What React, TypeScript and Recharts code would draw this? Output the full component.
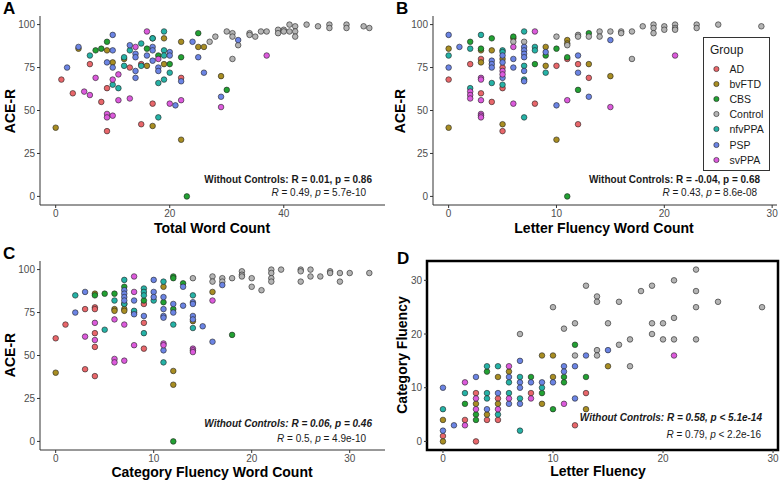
import React from "react";
import { ScatterChart, Scatter, XAxis, YAxis, ReferenceArea, Legend } from "recharts";

const groups = ["AD", "bvFTD", "CBS", "Control", "nfvPPA", "PSP", "svPPA"];
const colors = ["#E8666A", "#A88D22", "#22A133", "#B4B4B4", "#25B2A6", "#6B84E4", "#DC5ADC"];

// A: total word count vs ACE-R
const totalAD = [[1, 68], [3, 60], [6, 77], [8, 55], [9, 63], [9, 38], [13, 75], [15, 42], [15, 77], [17, 54], [22, 69]];
const totalBvFTD = [[0, 40], [4, 86], [9, 85], [10, 78], [12, 80], [16, 76], [19, 92], [19, 77], [22, 90], [25, 87], [26, 87], [29, 70], [17, 41], [22, 33]];
const totalCBS = [[7, 85], [8, 86], [9, 90], [16, 86], [17, 92], [18, 82], [20, 77], [22, 81], [25, 95], [30, 62], [23, 0]];
const totalControl = [[27, 90], [28, 93], [30, 96], [31, 95], [31, 93], [32, 88], [31, 80], [34, 95], [34, 94], [35, 93], [36, 96], [37, 96], [39, 97], [39, 95], [40, 97], [40, 96], [41, 100], [41, 96], [42, 99], [42, 96], [42, 93], [44, 100], [46, 99], [48, 100], [48, 98], [51, 100], [51, 98], [54, 99], [55, 98]];
const totalNfvPPA = [[6, 82], [12, 76], [12, 81], [13, 85], [15, 89], [15, 76], [19, 96], [19, 85], [19, 82], [10, 65], [11, 63], [18, 66], [19, 68], [20, 72], [18, 46], [17, 92]];
const totalPSP = [[2, 75], [4, 87], [10, 94], [10, 85], [9, 78], [10, 75], [13, 88], [14, 83], [14, 81], [14, 73], [14, 69], [16, 82], [17, 87], [17, 85], [17, 79], [18, 75], [18, 73], [20, 84], [20, 82], [22, 67], [24, 90], [25, 81], [26, 72], [32, 91], [21, 53], [29, 58]];
const totalSvPPA = [[5, 61], [6, 59], [7, 69], [9, 48], [9, 46], [10, 47], [10, 68], [11, 71], [11, 56], [13, 57], [14, 87], [16, 96], [18, 80], [20, 54], [22, 56], [29, 52], [37, 82]];

// B: letter fluency word count vs ACE-R
const letterAD = [[0, 68], [2, 77], [3, 80], [3, 60], [4, 55], [5, 75], [5, 63], [5, 38], [8, 54], [10, 76], [11, 80], [12, 77], [12, 42], [13, 69]];
const letterBvFTD = [[0, 86], [0, 40], [3, 85], [3, 78], [4, 85], [5, 80], [5, 42], [6, 92], [9, 87], [9, 76], [10, 33], [11, 91], [11, 89], [13, 77], [15, 70]];
const letterCBS = [[2, 90], [3, 86], [4, 92], [6, 93], [8, 77], [9, 82], [10, 86], [11, 81], [12, 62], [13, 95], [11, 0]];
const letterControl = [[6, 90], [7, 90], [10, 93], [11, 88], [12, 94], [12, 93], [13, 93], [14, 96], [14, 93], [15, 96], [16, 96], [16, 95], [17, 96], [17, 80], [18, 99], [19, 100], [19, 98], [19, 95], [20, 99], [20, 97], [21, 100], [21, 98], [21, 97], [23, 100], [23, 98], [25, 100], [29, 99]];
const letterNfvPPA = [[0, 82], [2, 86], [2, 63], [3, 94], [4, 66], [5, 85], [5, 84], [5, 65], [7, 96], [7, 76], [7, 68], [7, 46], [8, 87], [8, 85], [9, 72]];
const letterPSP = [[0, 94], [0, 75], [1, 87], [4, 79], [4, 77], [4, 75], [5, 82], [5, 78], [5, 69], [6, 80], [6, 75], [7, 87], [7, 85], [7, 83], [7, 81], [7, 73], [7, 67], [9, 84], [10, 53], [12, 82], [12, 72], [13, 58], [15, 91]];
const letterSvPPA = [[2, 61], [2, 59], [2, 57], [3, 69], [3, 68], [3, 56], [3, 48], [3, 47], [3, 46], [5, 73], [5, 71], [6, 87], [6, 54], [8, 96], [11, 56], [15, 52], [21, 82]];

// C: category fluency word count vs ACE-R
const categoryAD = [[0, 60], [1, 68], [3, 77], [3, 42], [4, 78], [4, 77], [4, 63], [4, 55], [4, 38], [8, 75], [9, 80], [9, 69], [9, 54]];
const categoryBvFTD = [[0, 40], [4, 86], [6, 77], [6, 76], [7, 80], [7, 77], [7, 76], [11, 90], [12, 41], [12, 33], [14, 70], [16, 87]];
const categoryCBS = [[4, 85], [5, 86], [6, 86], [7, 90], [9, 82], [11, 81], [12, 96], [12, 95], [12, 77], [13, 92], [18, 62], [12, 0]];
const categoryControl = [[14, 95], [16, 96], [16, 93], [17, 95], [17, 93], [18, 95], [19, 99], [19, 97], [19, 96], [20, 95], [20, 90], [21, 88], [22, 100], [22, 98], [22, 95], [22, 93], [23, 100], [25, 100], [25, 99], [25, 93], [26, 100], [26, 96], [27, 96], [28, 99], [28, 98], [29, 98], [29, 93], [30, 98], [32, 98]];
const categoryNfvPPA = [[2, 85], [5, 65], [6, 82], [7, 94], [7, 80], [8, 76], [9, 89], [9, 87], [9, 85], [9, 63], [10, 82], [11, 93], [11, 46], [12, 68], [14, 85], [14, 66]];
const categoryPSP = [[2, 75], [3, 87], [7, 88], [7, 86], [7, 84], [7, 82], [8, 82], [8, 74], [9, 73], [10, 94], [10, 87], [10, 84], [11, 84], [11, 77], [11, 73], [11, 72], [11, 53], [12, 80], [12, 75], [13, 90], [13, 79], [14, 81], [14, 80], [14, 73], [14, 71], [15, 67], [16, 58], [17, 91]];
const categorySvPPA = [[3, 61], [4, 69], [4, 59], [6, 71], [6, 48], [6, 46], [7, 68], [7, 47], [8, 96], [8, 87], [8, 56], [11, 57], [11, 56], [14, 54], [14, 53], [14, 52], [16, 82]];

// D: letter fluency vs category fluency
const fluencyAD = [[0, 1], [2, 4], [3, 9], [3, 0], [4, 4], [5, 8], [5, 4], [8, 9], [12, 3], [13, 9]];
const fluencyBvFTD = [[0, 4], [0, 0], [3, 7], [4, 5], [5, 12], [5, 7], [6, 13], [9, 7], [9, 16], [10, 16], [10, 12], [13, 6], [15, 14]];
const fluencyCBS = [[2, 7], [3, 5], [3, 4], [4, 13], [8, 12], [9, 9], [10, 6], [11, 12], [11, 11], [12, 18], [13, 12]];
const fluencyControl = [[7, 20], [10, 25], [11, 21], [12, 22], [12, 16], [13, 29], [14, 27], [14, 26], [14, 17], [14, 16], [15, 22], [16, 26], [16, 18], [17, 19], [17, 14], [18, 28], [19, 29], [19, 22], [19, 20], [20, 22], [20, 19], [21, 30], [21, 23], [21, 19], [23, 32], [23, 28], [23, 25], [23, 19], [25, 26], [29, 25]];
const fluencyNfvPPA = [[0, 6], [2, 9], [4, 14], [4, 9], [4, 8], [5, 14], [5, 5], [6, 11], [6, 9], [7, 12], [7, 8], [7, 2], [9, 10]];
const fluencyPSP = [[0, 10], [0, 2], [1, 3], [3, 12], [4, 6], [5, 9], [6, 12], [6, 7], [7, 15], [7, 11], [7, 10], [7, 7], [8, 11], [9, 11], [10, 11], [11, 14], [11, 13], [12, 14], [12, 8], [13, 16], [15, 17]];
const fluencySvPPA = [[2, 11], [2, 3], [3, 8], [3, 6], [5, 6], [6, 14], [6, 8], [8, 8], [11, 7], [21, 16]];

const font = "'Liberation Sans', Arial, sans-serif";
const axisStroke = { stroke: "#333", strokeWidth: 1 };
const tickFont = { fill: "#4d4d4d", fontSize: 10, fontFamily: font };

const toPoints = (pairs: number[][]) => pairs.map(([x, y]) => ({ x, y }));

const Dot = (props: any) => (
  <circle cx={props.cx} cy={props.cy} r={2.8} fill={props.fill} stroke="#222" strokeWidth={0.6} />
);

const GroupLegend = () => (
  <div style={{ position: "relative", width: 67, height: 134, boxSizing: "border-box", border: "1px solid #333", background: "#fff", fontFamily: font, color: "#1a1a1a" }}>
    <div style={{ position: "absolute", left: 6, top: 5, fontSize: 12, lineHeight: "14px" }}>Group</div>
    {groups.map((g, i) => (
      <div key={g} style={{ position: "absolute", left: 0, top: 24 + i * 15.1, height: 14, display: "flex", alignItems: "center", fontSize: 10.5 }}>
        <svg width={20} height={14}>
          <circle cx={12.4} cy={7} r={2.6} fill={colors[i]} stroke="#222" strokeWidth={0.6} />
        </svg>
        <span style={{ marginLeft: 5.5 }}>{g}</span>
      </div>
    ))}
  </div>
);

function Panel(p: any) {
  return (
    <div style={{ position: "absolute", left: p.left, top: p.top }}>
      <ScatterChart width={p.width} height={p.height} margin={p.margin}>
        <XAxis type="number" dataKey="x" domain={p.xDomain} ticks={p.xTicks} allowDataOverflow interval={0}
          height={p.xHeight} tickSize={3} tickMargin={2} axisLine={p.framed ? false : axisStroke} tickLine={axisStroke} tick={tickFont} />
        <YAxis type="number" dataKey="y" domain={p.yDomain} ticks={p.yTicks} allowDataOverflow interval={0}
          width={p.yWidth} tickSize={3} tickMargin={2} axisLine={p.framed ? false : axisStroke} tickLine={axisStroke} tick={tickFont} />
        {p.series.map((pts: number[][], i: number) => (
          <Scatter key={groups[i]} name={groups[i]} data={toPoints(pts)} fill={colors[i]} shape={Dot} isAnimationActive={false} />
        ))}
        {p.framed && (
          <ReferenceArea x1={p.xDomain[0]} x2={p.xDomain[1]} y1={p.yDomain[0]} y2={p.yDomain[1]}
            fill="none" stroke="#000" strokeWidth={2.5} ifOverflow="visible" />
        )}
        {p.legend && (
          <Legend layout="vertical" align="center" verticalAlign="middle" content={GroupLegend}
            wrapperStyle={{ left: 313, top: 37, width: 67 }} />
        )}
      </ScatterChart>
    </div>
  );
}

const txt = (extra: any) => ({ position: "absolute" as const, fontFamily: font, whiteSpace: "nowrap" as const, ...extra });

export default function App() {
  return (
    <div style={{ position: "absolute", left: 0, top: 0, width: 780, height: 482, background: "#fff", fontFamily: font, color: "#000" }}>
      <Panel left={0} top={0} width={390} height={240} margin={{ top: 16, right: 5, bottom: 0, left: 0 }} yWidth={40} xHeight={35}
        series={[totalAD, totalBvFTD, totalCBS, totalControl, totalNfvPPA, totalPSP, totalSvPPA]}
        xDomain={[-2.75, 57.75]} yDomain={[-5, 105]} xTicks={[0, 20, 40]} yTicks={[0, 25, 50, 75, 100]} />
      <Panel left={390} top={0} width={390} height={240} margin={{ top: 16, right: 3, bottom: 0, left: 0 }} yWidth={43} xHeight={35}
        series={[letterAD, letterBvFTD, letterCBS, letterControl, letterNfvPPA, letterPSP, letterSvPPA]}
        xDomain={[-1.45, 30.45]} yDomain={[-5, 105]} xTicks={[0, 10, 20, 30]} yTicks={[0, 25, 50, 75, 100]} legend />
      <Panel left={0} top={240} width={390} height={242} margin={{ top: 21, right: 5, bottom: 0, left: 0 }} yWidth={40} xHeight={32}
        series={[categoryAD, categoryBvFTD, categoryCBS, categoryControl, categoryNfvPPA, categoryPSP, categorySvPPA]}
        xDomain={[-1.6, 33.6]} yDomain={[-5, 105]} xTicks={[0, 10, 20, 30]} yTicks={[0, 25, 50, 75, 100]} />
      <Panel left={390} top={240} width={390} height={242} margin={{ top: 21, right: 2, bottom: 0, left: 0 }} yWidth={37} xHeight={32}
        series={[fluencyAD, fluencyBvFTD, fluencyCBS, fluencyControl, fluencyNfvPPA, fluencyPSP, fluencySvPPA]}
        xDomain={[-1.45, 30.45]} yDomain={[-1.6, 33.6]} xTicks={[0, 10, 20, 30]} yTicks={[0, 10, 20, 30]} framed />

      {/* panel letters */}
      <div style={txt({ left: 3, top: 0, fontSize: 17, fontWeight: 700, lineHeight: "17px" })}>A</div>
      <div style={txt({ left: 396, top: 0, fontSize: 17, fontWeight: 700, lineHeight: "17px" })}>B</div>
      <div style={txt({ left: 3, top: 245, fontSize: 17, fontWeight: 700, lineHeight: "17px" })}>C</div>
      <div style={txt({ left: 397, top: 250, fontSize: 17, fontWeight: 700, lineHeight: "17px" })}>D</div>

      {/* axis titles */}
      <div style={txt({ left: 212, top: 228, fontSize: 14, fontWeight: 700, transform: "translate(-50%,-50%)" })}>Total Word Count</div>
      <div style={txt({ left: 604, top: 228, fontSize: 14, fontWeight: 700, transform: "translate(-50%,-50%)" })}>Letter Fluency Word Count</div>
      <div style={txt({ left: 212, top: 472, fontSize: 14, fontWeight: 700, transform: "translate(-50%,-50%)" })}>Category Fluency Word Count</div>
      <div style={txt({ left: 598, top: 471, fontSize: 14, fontWeight: 700, transform: "translate(-50%,-50%)" })}>Letter Fluency</div>
      <div style={txt({ left: 10, top: 111, fontSize: 14, fontWeight: 700, transform: "translate(-50%,-50%) rotate(-90deg)" })}>ACE-R</div>
      <div style={txt({ left: 400, top: 111, fontSize: 14, fontWeight: 700, transform: "translate(-50%,-50%) rotate(-90deg)" })}>ACE-R</div>
      <div style={txt({ left: 10, top: 355, fontSize: 14, fontWeight: 700, transform: "translate(-50%,-50%) rotate(-90deg)" })}>ACE-R</div>
      <div style={txt({ left: 402, top: 355, fontSize: 14, fontWeight: 700, transform: "translate(-50%,-50%) rotate(-90deg)" })}>Category Fluency</div>

      {/* correlation notes */}
      <div style={txt({ right: 408, top: 174, fontSize: 10, fontWeight: 700, lineHeight: "12px", color: "#1a1a1a" })}>Without Controls: R = 0.01, p = 0.86</div>
      <div style={txt({ right: 414, top: 187, fontSize: 10, lineHeight: "12px", color: "#1a1a1a" })}><i>R</i> = 0.49, <i>p</i> = 5.7e-10</div>
      <div style={txt({ right: 20, top: 174, fontSize: 10, fontWeight: 700, lineHeight: "12px", color: "#1a1a1a" })}>Without Controls: R = -0.04, p = 0.68</div>
      <div style={txt({ right: 23, top: 187, fontSize: 10, lineHeight: "12px", color: "#1a1a1a" })}><i>R</i> = 0.43, <i>p</i> = 8.6e-08</div>
      <div style={txt({ right: 408, top: 418, fontSize: 10, fontWeight: 700, fontStyle: "italic", lineHeight: "12px", color: "#1a1a1a" })}>Without Controls: R = 0.06, p = 0.46</div>
      <div style={txt({ right: 414, top: 433, fontSize: 10, lineHeight: "12px", color: "#1a1a1a" })}><i>R</i> = 0.5, <i>p</i> = 4.9e-10</div>
      <div style={txt({ right: 18, top: 412, fontSize: 10, fontWeight: 700, fontStyle: "italic", lineHeight: "12px", color: "#1a1a1a" })}>Without Controls: R = 0.58, p &lt; 5.1e-14</div>
      <div style={txt({ right: 19, top: 429, fontSize: 10, lineHeight: "12px", color: "#1a1a1a" })}><i>R</i> = 0.79, <i>p</i> &lt; 2.2e-16</div>
    </div>
  );
}
